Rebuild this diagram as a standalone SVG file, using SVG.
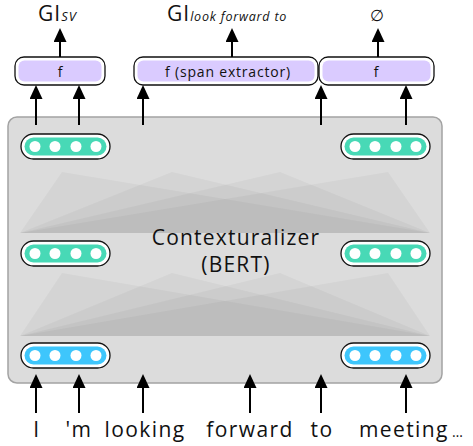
<svg xmlns="http://www.w3.org/2000/svg" width="473" height="446" viewBox="0 0 473 446">
<defs>
<style>
text{font-family:"Open Sans","Noto Sans",sans-serif;fill:#111}
.arr{stroke:#000;stroke-width:2;fill:none;marker-end:url(#ah)}
.outer{fill:#fff;stroke:#111;stroke-width:1.3}
.teal{fill:#48d9b6}
.blue{fill:#3ec6fc}
.dot{fill:#fff}
.fin{fill:#dacbff}
.tri{fill:#000;fill-opacity:0.035}
.lbl{font-size:21px;text-anchor:middle;letter-spacing:1.4px}
</style>
<marker id="ah" viewBox="0 0 14 13" refX="10" refY="6.5" markerWidth="14" markerHeight="13" orient="auto" markerUnits="userSpaceOnUse">
<path d="M0,0 L14,6.5 L0,13 Z" fill="#000"/>
</marker>
</defs>

<g id="contextualizer">
<rect x="8" y="117" width="434" height="266" rx="9" fill="#dcdcdc" stroke="#a3a3a3" stroke-width="1.5"/>
<polygon class="tri" points="20,233 430,233 62,172"/>
<polygon class="tri" points="20,233 430,233 172,172"/>
<polygon class="tri" points="20,233 430,233 280,172"/>
<polygon class="tri" points="20,233 430,233 388,172"/>
<polygon class="tri" points="20,336 430,336 62,273"/>
<polygon class="tri" points="20,336 430,336 172,273"/>
<polygon class="tri" points="20,336 430,336 280,273"/>
<polygon class="tri" points="20,336 430,336 388,273"/>
<text x="236" y="245" font-size="21" text-anchor="middle" letter-spacing="1.2">Contexturalizer</text>
<text x="236" y="272" font-size="21" text-anchor="middle" letter-spacing="1.2">(BERT)</text>
</g>

<g id="vec-top-left">
<rect class="outer" x="21" y="134" width="89" height="25" rx="12.5"/>
<rect class="teal" x="24.5" y="137.5" width="82" height="18" rx="9"/>
<circle class="dot" cx="35" cy="146.5" r="5.5"/><circle class="dot" cx="55" cy="146.5" r="5.5"/><circle class="dot" cx="76" cy="146.5" r="5.5"/><circle class="dot" cx="96" cy="146.5" r="5.5"/>
</g>
<g id="vec-top-right">
<rect class="outer" x="341" y="134" width="89" height="25" rx="12.5"/>
<rect class="teal" x="344.5" y="137.5" width="82" height="18" rx="9"/>
<circle class="dot" cx="355" cy="146.5" r="5.5"/><circle class="dot" cx="375" cy="146.5" r="5.5"/><circle class="dot" cx="396" cy="146.5" r="5.5"/><circle class="dot" cx="416" cy="146.5" r="5.5"/>
</g>
<g id="vec-mid-left">
<rect class="outer" x="21" y="241" width="89" height="25" rx="12.5"/>
<rect class="teal" x="24.5" y="244.5" width="82" height="18" rx="9"/>
<circle class="dot" cx="35" cy="253.5" r="5.5"/><circle class="dot" cx="55" cy="253.5" r="5.5"/><circle class="dot" cx="76" cy="253.5" r="5.5"/><circle class="dot" cx="96" cy="253.5" r="5.5"/>
</g>
<g id="vec-mid-right">
<rect class="outer" x="341" y="241" width="89" height="25" rx="12.5"/>
<rect class="teal" x="344.5" y="244.5" width="82" height="18" rx="9"/>
<circle class="dot" cx="355" cy="253.5" r="5.5"/><circle class="dot" cx="375" cy="253.5" r="5.5"/><circle class="dot" cx="396" cy="253.5" r="5.5"/><circle class="dot" cx="416" cy="253.5" r="5.5"/>
</g>
<g id="vec-bot-left">
<rect class="outer" x="21" y="343" width="89" height="25" rx="12.5"/>
<rect class="blue" x="24.5" y="346.5" width="82" height="18" rx="9"/>
<circle class="dot" cx="35" cy="355.5" r="5.5"/><circle class="dot" cx="55" cy="355.5" r="5.5"/><circle class="dot" cx="76" cy="355.5" r="5.5"/><circle class="dot" cx="96" cy="355.5" r="5.5"/>
</g>
<g id="vec-bot-right">
<rect class="outer" x="341" y="343" width="89" height="25" rx="12.5"/>
<rect class="blue" x="344.5" y="346.5" width="82" height="18" rx="9"/>
<circle class="dot" cx="355" cy="355.5" r="5.5"/><circle class="dot" cx="375" cy="355.5" r="5.5"/><circle class="dot" cx="396" cy="355.5" r="5.5"/><circle class="dot" cx="416" cy="355.5" r="5.5"/>
</g>

<g id="f-left">
<rect class="outer" x="15" y="57" width="90" height="28" rx="9"/>
<rect class="fin" x="18.5" y="60.5" width="83" height="21" rx="6"/>
<text x="60" y="77" font-size="14" text-anchor="middle">f</text>
</g>
<g id="f-span">
<rect class="outer" x="134" y="57" width="184" height="28" rx="9"/>
<rect class="fin" x="137.5" y="60.5" width="177" height="21" rx="6"/>
<text x="228" y="77" font-size="14" text-anchor="middle" letter-spacing="0.8">f (span extractor)</text>
</g>
<g id="f-right">
<rect class="outer" x="319" y="57" width="115" height="28" rx="9"/>
<rect class="fin" x="322.5" y="60.5" width="108" height="21" rx="6"/>
<text x="376" y="77" font-size="14" text-anchor="middle">f</text>
</g>

<g id="out-labels">
<text x="38" y="21" font-size="21" letter-spacing="1">GI<tspan font-size="13" font-style="italic">SV</tspan></text>
<text x="167" y="21" font-size="21" letter-spacing="1">GI<tspan font-size="12.5" font-style="italic" letter-spacing="0.8">look forward to</tspan></text>
<text x="377" y="21" font-size="16" text-anchor="middle">∅</text>
</g>

<g id="connectors">
<line class="arr" x1="60" y1="57" x2="60" y2="32"/>
<line class="arr" x1="232" y1="57" x2="232" y2="32"/>
<line class="arr" x1="378" y1="57" x2="378" y2="32"/>
<line class="arr" x1="36" y1="125" x2="36" y2="89"/>
<line class="arr" x1="79" y1="125" x2="79" y2="89"/>
<line class="arr" x1="143" y1="125" x2="143" y2="89"/>
<line class="arr" x1="321" y1="125" x2="321" y2="89"/>
<line class="arr" x1="406" y1="125" x2="406" y2="89"/>
<line class="arr" x1="36" y1="413" x2="36" y2="378"/>
<line class="arr" x1="79" y1="413" x2="79" y2="378"/>
<line class="arr" x1="143" y1="413" x2="143" y2="378"/>
<line class="arr" x1="250" y1="413" x2="250" y2="378"/>
<line class="arr" x1="321" y1="413" x2="321" y2="378"/>
<line class="arr" x1="406" y1="413" x2="406" y2="378"/>
</g>

<g id="tokens">
<text class="lbl" x="37" y="437">I</text>
<text class="lbl" x="79" y="437">'m</text>
<text class="lbl" x="145" y="437">looking</text>
<text class="lbl" x="250" y="437">forward</text>
<text class="lbl" x="322" y="437">to</text>
<text x="359" y="437" font-size="21" letter-spacing="1.4">meeting<tspan font-size="14" dx="3">…</tspan></text>
</g>
</svg>
